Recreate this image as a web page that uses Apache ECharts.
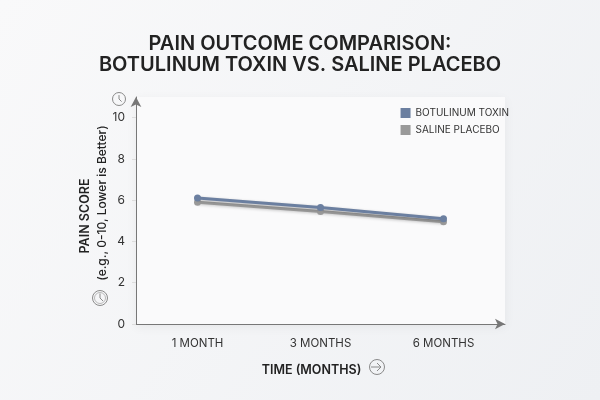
<!DOCTYPE html>
<html>
<head>
<meta charset="utf-8">
<script src="https://cdn.jsdelivr.net/npm/echarts@6/dist/echarts.min.js"></script>
<style>
  html, body { margin: 0; padding: 0; background: #f4f5f7; }
  #chart { width: 600px; height: 400px; }
</style>
</head>
<body>
<div id="chart"></div>
<script>
var months = ['1 MONTH', '3 MONTHS', '6 MONTHS'];
var botox = [6.1, 5.65, 5.1];
var placebo = [5.9, 5.45, 4.95];
var yTicks = [0, 2, 4, 6, 8, 10];

var FONT = 'Inter';
var DARK = '#222';

function clock(x, y, r, ring) {
  var kids = [{
    type: 'circle', shape: { cx: 0, cy: 0, r: r },
    style: { fill: 'none', stroke: '#8a8a8a', lineWidth: 1 }
  }, {
    type: 'polyline', shape: { points: [[0, -r * 0.6], [0, 0], [r * 0.4, r * 0.4]] },
    style: { fill: 'none', stroke: '#8a8a8a', lineWidth: 1 }
  }];
  if (ring) {
    kids.push({
      type: 'circle', shape: { cx: 0, cy: 0, r: r - 2 },
      style: { fill: 'none', stroke: '#aaa', lineWidth: 0.8 }
    });
  }
  return { type: 'group', x: x, y: y, children: kids };
}

var chart = echarts.init(document.getElementById('chart'));
chart.setOption({
  backgroundColor: {
    type: 'linear', x: 0, y: 0, x2: 1, y2: 1,
    colorStops: [{ offset: 0, color: '#f9f9fa' }, { offset: 1, color: '#eef0f3' }]
  },
  textStyle: { fontFamily: FONT },
  title: {
    text: 'PAIN OUTCOME COMPARISON:\nBOTULINUM TOXIN VS. SALINE PLACEBO',
    left: 'center', top: 28,
    textStyle: { fontFamily: FONT, fontSize: 20, fontWeight: 600, color: DARK, lineHeight: 21 }
  },
  legend: {
    orient: 'vertical', right: 86, top: 103, itemGap: 7,
    itemWidth: 10, itemHeight: 10, icon: 'rect',
    textStyle: { fontSize: 10, color: '#333' },
    data: ['BOTULINUM TOXIN', 'SALINE PLACEBO']
  },
  grid: {
    left: 136, right: 95, top: 97, bottom: 76,
    show: true, borderWidth: 0, backgroundColor: '#fafafb',
    shadowColor: 'rgba(0,0,0,0.06)', shadowBlur: 10, shadowOffsetY: 3
  },
  xAxis: {
    type: 'category', data: months, boundaryGap: true,
    name: 'TIME (MONTHS)', nameLocation: 'middle', nameGap: 40,
    nameTextStyle: { fontSize: 12.5, fontWeight: 600, color: DARK, padding: [0, 18, 0, 0] },
    axisLine: { symbol: ['none', 'arrow'], symbolSize: [8, 10], lineStyle: { color: '#777', width: 1 } },
    axisTick: { alignWithLabel: true, length: 4, lineStyle: { color: '#ddd' } },
    axisLabel: { fontSize: 11.5, color: '#333', margin: 14 }
  },
  yAxis: {
    type: 'value', min: 0, max: 11, interval: 2,
    axisLine: { show: true, symbol: ['none', 'arrow'], symbolSize: [8, 10], lineStyle: { color: '#777', width: 1 } },
    axisTick: { show: true, length: 4, customValues: yTicks, lineStyle: { color: '#ddd' } },
    axisLabel: { fontSize: 12, color: '#333', margin: 11, customValues: yTicks },
    splitLine: { show: false }
  },
  series: [{
    name: 'BOTULINUM TOXIN', type: 'line', data: botox,
    symbol: 'circle', symbolSize: 7,
    itemStyle: { color: '#6b7fa0' },
    lineStyle: { width: 3, shadowColor: 'rgba(0,0,0,0.25)', shadowBlur: 3, shadowOffsetY: 1 },
    z: 3
  }, {
    name: 'SALINE PLACEBO', type: 'line', data: placebo,
    symbol: 'circle', symbolSize: 7,
    itemStyle: { color: '#999999' },
    lineStyle: { width: 3, shadowColor: 'rgba(0,0,0,0.2)', shadowBlur: 3, shadowOffsetY: 1 },
    z: 2
  }],
  graphic: [
    {
      type: 'text', x: 85, y: 216, rotation: Math.PI / 2,
      style: {
        text: 'PAIN SCORE', fontFamily: FONT, fontSize: 12.5, fontWeight: 600,
        fill: DARK, align: 'center', verticalAlign: 'middle'
      }
    },
    {
      type: 'text', x: 102, y: 203, rotation: Math.PI / 2,
      style: {
        text: '(e.g., 0-10, Lower is Better)', fontFamily: FONT, fontSize: 12, fontWeight: 500,
        fill: DARK, align: 'center', verticalAlign: 'middle'
      }
    },
    clock(119, 99, 6.5, false),
    clock(100, 298, 7.5, true),
    {
      type: 'group', x: 377, y: 367,
      children: [{
        type: 'circle', shape: { cx: 0, cy: 0, r: 7.5 },
        style: { fill: 'none', stroke: '#8a8a8a', lineWidth: 1 }
      }, {
        type: 'polyline', shape: { points: [[-6, 0], [4, 0]] },
        style: { fill: 'none', stroke: '#8a8a8a', lineWidth: 1 }
      }, {
        type: 'polyline', shape: { points: [[0, -4], [4, 0], [0, 4]] },
        style: { fill: 'none', stroke: '#8a8a8a', lineWidth: 1 }
      }]
    }
  ]
});
</script>
</body>
</html>
